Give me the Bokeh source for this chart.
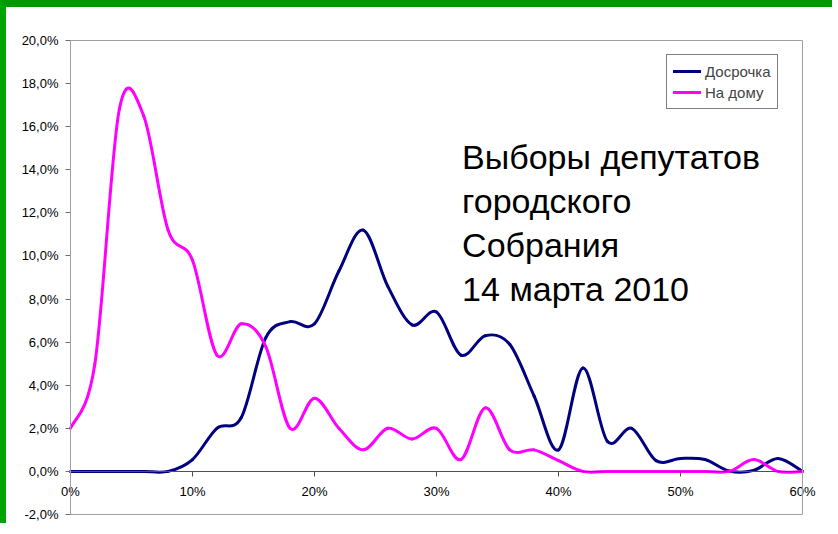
from bokeh.plotting import figure
from bokeh.models import FixedTicker, Legend, LegendItem, Label, Range1d, BoxAnnotation
from bokeh.embed import file_html
from bokeh.resources import INLINE

# ---- data ----
share = [0, 2, 4, 6, 8, 10, 12, 14, 16, 18, 20, 22, 24, 26, 28, 30,
         32, 34, 36, 38, 40, 42, 44, 46, 48, 50, 52, 54, 56, 58, 60]
early = [0.0, 0.0, 0.0, 0.0, 0.0, 0.55, 2.0, 2.5, 6.2, 6.95, 6.85, 9.3, 11.2, 8.6, 6.8, 7.4,
         5.4, 6.3, 5.9, 3.5, 1.0, 4.8, 1.4, 2.0, 0.5, 0.6, 0.55, 0.02, 0.05, 0.6, 0.0]
home = [2.0, 5.0, 16.8, 16.5, 11.2, 9.8, 5.4, 6.85, 5.8, 2.0, 3.4, 2.0, 1.0, 2.0, 1.5, 2.0,
        0.55, 2.95, 1.0, 1.0, 0.5, 0.0, 0.0, 0.0, 0.0, 0.0, 0.0, 0.0, 0.55, 0.0, 0.0]
series_names = ["Досрочка", "На дому"]
series_colors = ["#000080", "#ff00ff"]

x_min, x_max = 0, 60
y_min, y_max = -2, 20
x_ticks = [0, 10, 20, 30, 40, 50, 60]
x_tick_labels = ["0%", "10%", "20%", "30%", "40%", "50%", "60%"]
y_ticks = [-2, 0, 2, 4, 6, 8, 10, 12, 14, 16, 18, 20]
y_tick_labels = ["-2,0%", "0,0%", "2,0%", "4,0%", "6,0%", "8,0%", "10,0%",
                 "12,0%", "14,0%", "16,0%", "18,0%", "20,0%"]
title_lines = ["Выборы депутатов", "городского", "Собрания", "14 марта 2010"]

FONT = "Liberation Sans"

# canvas and plot-area geometry (pixels inside the canvas)
W, H = 832, 523
L, R, T, B = 64, 796, 33, 507
sx = (x_max - x_min) / (R - L)
sy = (y_max - y_min) / (B - T)


def smooth_segments(xs, ys):
    """Catmull-Rom style Bezier control points (Excel 'smoothed line')."""
    n = len(xs)
    x0, y0, x1, y1, cx0, cy0, cx1, cy1 = ([] for _ in range(8))
    for i in range(n - 1):
        im = max(i - 1, 0)
        ip2 = min(i + 2, n - 1)
        x0.append(xs[i]); y0.append(ys[i])
        x1.append(xs[i + 1]); y1.append(ys[i + 1])
        cx0.append(xs[i] + (xs[i + 1] - xs[im]) / 6.0)
        cy0.append(ys[i] + (ys[i + 1] - ys[im]) / 6.0)
        cx1.append(xs[i + 1] - (xs[ip2] - xs[i]) / 6.0)
        cy1.append(ys[i + 1] - (ys[ip2] - ys[i]) / 6.0)
    return dict(x0=x0, y0=y0, x1=x1, y1=y1, cx0=cx0, cy0=cy0, cx1=cx1, cy1=cy1)


p = figure(width=W, height=H, output_backend="svg", toolbar_location=None,
           x_range=Range1d(x_min - L * sx, x_max + (W - R) * sx),
           y_range=Range1d(y_min - (H - B) * sy, y_max + T * sy),
           min_border_left=0, min_border_right=0, min_border_top=0, min_border_bottom=0)
p.styles = {"border-top": "7px solid #009a00", "border-left": "6px solid #00a400"}
p.background_fill_color = "white"
p.border_fill_color = "white"
p.outline_line_color = None
p.xgrid.visible = False
p.ygrid.visible = False

# plot-area border
p.add_layout(BoxAnnotation(left=x_min, right=x_max, bottom=y_min, top=y_max,
                           fill_alpha=0, line_color="#a0a0a0", line_alpha=1.0, line_width=1))

renderers = []
for ys, color in zip([early, home], series_colors):
    seg = smooth_segments(share, ys)
    r = p.bezier(x0="x0", y0="y0", x1="x1", y1="y1", cx0="cx0", cy0="cy0",
                 cx1="cx1", cy1="cy1", source=seg, line_color=color,
                 line_width=3, line_cap="round")
    renderers.append(r)

# x axis crossing at 0
xa = p.xaxis[0]
xa.fixed_location = 0
xa.bounds = (x_min, x_max)
xa.ticker = FixedTicker(ticks=x_ticks)
xa.major_label_overrides = {t: l for t, l in zip(x_ticks, x_tick_labels)}
xa.axis_line_color = "#505050"
xa.major_tick_line_color = "#505050"
xa.major_tick_in = 0
xa.major_tick_out = 5
xa.minor_tick_line_color = None
xa.major_label_text_font = FONT
xa.major_label_text_font_size = "13px"
xa.major_label_text_color = "black"
xa.major_label_standoff = 8

# y axis at x = 0
ya = p.yaxis[0]
ya.fixed_location = 0
ya.bounds = (y_min, y_max)
ya.ticker = FixedTicker(ticks=y_ticks)
ya.major_label_overrides = {t: l for t, l in zip(y_ticks, y_tick_labels)}
ya.axis_line_color = "#707070"
ya.major_tick_line_color = "#707070"
ya.major_tick_in = 0
ya.major_tick_out = 5
ya.minor_tick_line_color = None
ya.major_label_text_font = FONT
ya.major_label_text_font_size = "13px"
ya.major_label_text_color = "black"
ya.major_label_standoff = 7

legend = Legend(items=[LegendItem(label=n, renderers=[r]) for n, r in zip(series_names, renderers)],
                location=(660, 421), border_line_color="black", border_line_width=1,
                background_fill_color="white", background_fill_alpha=1.0,
                label_text_font=FONT, label_text_font_size="15px",
                glyph_width=28, glyph_height=20, label_height=20, label_standoff=4,
                padding=6, spacing=1, margin=0)
p.add_layout(legend, "center")

baselines = [14.57, 12.53, 10.49, 8.45]
for line, yb in zip(title_lines, baselines):
    p.add_layout(Label(x=32.1, y=yb, text=line, text_font=FONT, text_font_size="34px",
                       text_color="black", text_baseline="alphabetic", text_align="left"))

open("out.html", "w").write(file_html(p, INLINE))
